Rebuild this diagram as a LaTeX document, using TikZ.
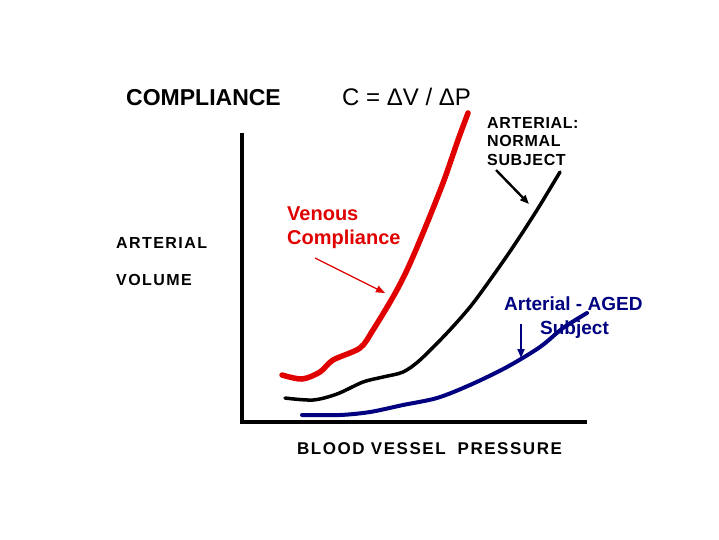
\documentclass[tikz,border=0pt]{standalone}
\usepackage{fontspec}
\setmainfont{Liberation Sans}
\newfontfamily\spacedfont[LetterSpace=9]{Liberation Sans}
\newfontfamily\labelfont[LetterSpace=4]{Liberation Sans}
\usetikzlibrary{arrows.meta,positioning,calc}

\begin{document}
\begin{tikzpicture}[
            x=1pt,y=-1pt,
            >={Triangle[length=9pt,width=7pt]},
            axis/.style={line width=3.3pt},
            curve/.style={smooth,line cap=round,line join=round},
            pointer/.style={->,line width=1.8pt},
            title/.style={font=\fontsize{23}{26}\selectfont\bfseries,anchor=base west,inner sep=0pt},
            label/.style={font=\fontsize{16}{18.5}\selectfont\spacedfont\bfseries,anchor=base west,inner sep=0pt,align=left},
            curvelabel/.style={font=\fontsize{20}{24}\selectfont\bfseries,anchor=base west,inner sep=0pt,align=left}
        ]

        % Define colors
        \definecolor{venousRed}{RGB}{224,0,0};
        \definecolor{agedBlue}{RGB}{0,0,128};

        \useasboundingbox[fill=white] (0,0) rectangle (719,539);

        % Axes
        \coordinate (origin) at (242,422);
        \coordinate (yTop) at (242,135);
        \coordinate (xEnd) at (585,422);
        \draw[axis,line cap=rect] (yTop) -- (origin) -- (xEnd);

        % Titles
        \node[title] (compliance) at (126,105) {COMPLIANCE};
        \node[title,font=\fontsize{24}{26}\selectfont] (formula) at (342,105) {C = ΔV / ΔP};

        % Axis labels
        \node[label] (arterial) at (116,248) {ARTERIAL};
        \node[label] (volume) at (116,285) {VOLUME};
        \node[label,font=\fontsize{17}{20}\selectfont\spacedfont\bfseries] (pressure) at (297,454) {BLOOD VESSEL\hspace{12pt}PRESSURE};

        % Venous curve
        \draw[curve,venousRed,line width=5.5pt] plot coordinates {(282,375) (302,379) (320,372) (333,360) (360,348) (373,330) (393,297) (407,270) (423,233) (443,183) (458,140) (468,113)};
        % Normal arterial curve
        \draw[curve,black,line width=3.5pt] plot coordinates {(285,398) (313,400) (337,394) (363,382) (383,377) (403,372) (420,360) (447,333) (470,307) (490,280) (513,247) (537,210) (560,172)};
        % Aged arterial curve
        \draw[curve,agedBlue,line width=4pt] plot coordinates {(302,415) (340,415) (370,412) (403,405) (437,398) (470,385) (507,367) (540,347) (563,328) (587,313)};

        % Curve labels (base anchor sits on the last line)
        \node[curvelabel,text=venousRed] (venous) at (287,244) {Venous\\Compliance};
        \node[label,font=\fontsize{16}{18.5}\selectfont\labelfont\bfseries] (normal) at (487,165) {ARTERIAL:\\NORMAL\\SUBJECT};
        \node[curvelabel,font=\fontsize{19}{24}\selectfont\bfseries,text=agedBlue] (aged) at (504,310) {Arterial - AGED};
        \node[curvelabel,font=\fontsize{19}{24}\selectfont\bfseries,text=agedBlue] (agedSubject) at (540,334) {Subject};

        % Pointers
        \coordinate (venousTail) at (315,258);
        \coordinate (venousTip) at (385,293);
        \coordinate (normalTail) at (496,170);
        \coordinate (normalTip) at (529,204);
        \coordinate (agedTail) at (521,324);
        \coordinate (agedTip) at (521,358);
        \draw[pointer,venousRed,line width=1.3pt] (venousTail) -- (venousTip);
        \draw[pointer,black,line width=2.4pt] (normalTail) -- (normalTip);
        \draw[pointer,agedBlue] (agedTail) -- (agedTip);

        \end{tikzpicture}
\end{document}
